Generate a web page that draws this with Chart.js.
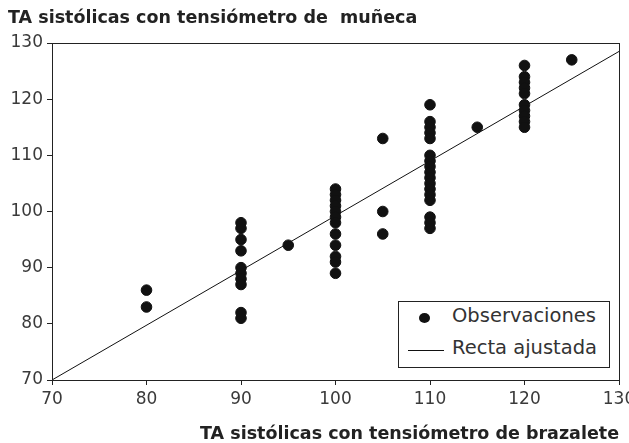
<!DOCTYPE html>
<html>
<head>
<meta charset="utf-8">
<script src="https://cdn.jsdelivr.net/npm/chart.js@4"></script>
<style>
  body { margin: 0; background: #fff; }
  #wrap { position: relative; width: 629px; height: 443px; }
  #legend {
    position: absolute; left: 398px; top: 301px; width: 210px; height: 65px;
    border: 1px solid #222; background: #fff;
    font-family: "DejaVu Sans", sans-serif; font-size: 19.5px; color: #333;
  }
  #legend div { position: absolute; left: 53px; white-space: nowrap; }
</style>
</head>
<body>
<div id="wrap">
  <canvas id="chart" width="629" height="443"></canvas>
  <div id="legend"></div>
</div>
<script>
// systolic readings: arm cuff (x) vs wrist (y)
const armTA = [
  80, 80,
  90, 90, 90, 90, 90, 90, 90, 90, 90, 90,
  95,
  100, 100, 100, 100, 100, 100, 100, 100, 100, 100, 100, 100,
  105, 105, 105,
  110, 110, 110, 110, 110, 110, 110, 110, 110, 110, 110, 110, 110, 110, 110, 110, 110,
  115,
  120, 120, 120, 120, 120, 120, 120, 120, 120, 120,
  125
];
const wristTA = [
  86, 83,
  98, 97, 95, 93, 90, 89, 88, 87, 82, 81,
  94,
  104, 103, 102, 101, 100, 99, 98, 96, 94, 92, 91, 89,
  113, 100, 96,
  119, 116, 115, 114, 113, 110, 109, 108, 107, 106, 105, 104, 103, 102, 99, 98, 97,
  115,
  126, 124, 123, 122, 121, 119, 118, 117, 116, 115,
  127
];
const fitX = [70, 130];
const fitY = [70, 128.5];
const axisTicks = [70, 80, 90, 100, 110, 120, 130];
const seriesNames = ['Observaciones', 'Recta ajustada'];

const font = '"DejaVu Sans", sans-serif';

const frame = {
  id: 'frame',
  afterDatasetsDraw(chart) {
    const a = chart.chartArea, ctx = chart.ctx;
    ctx.save();
    ctx.strokeStyle = '#222';
    ctx.lineWidth = 1;
    ctx.strokeRect(a.left + 0.5, a.top + 0.5, a.right - a.left, a.bottom - a.top);
    ctx.restore();
  }
};

const scaleCommon = {
  min: 70, max: 130,
  afterBuildTicks(s) { s.ticks = axisTicks.map(v => ({ value: v })); },
  grid: { drawOnChartArea: false, color: '#222', tickLength: 5, tickColor: '#222' },
  border: { color: '#222' },
  ticks: { color: '#3a3a3a', font: { family: font, size: 17 }, padding: 4 }
};

const chart = new Chart(document.getElementById('chart'), {
  type: 'scatter',
  data: {
    datasets: [
      {
        label: seriesNames[0],
        data: armTA.map((x, i) => ({ x: x, y: wristTA[i] })),
        backgroundColor: '#111',
        borderColor: '#111',
        pointRadius: 5.3,
        pointHoverRadius: 5.3
      },
      {
        label: seriesNames[1],
        type: 'line',
        data: fitX.map((x, i) => ({ x: x, y: fitY[i] })),
        borderColor: '#111',
        borderWidth: 1,
        pointRadius: 0,
        fill: false
      }
    ]
  },
  options: {
    responsive: false,
    animation: false,
    layout: { padding: { top: 2, right: 10, left: 8, bottom: 0 } },
    plugins: {
      legend: { display: false },
      tooltip: { enabled: false },
      title: {
        display: true,
        text: 'TA sistólicas con tensiómetro de  muñeca',
        align: 'start',
        color: '#222',
        font: { family: font, size: 17.5, weight: 'bold' },
        padding: { top: 6, bottom: 14 }
      }
    },
    scales: {
      x: Object.assign({}, scaleCommon, {
        type: 'linear',
        afterFit(s) { s.height = 63; s.paddingLeft = 0; s.paddingRight = 0; },
        title: {
          display: true,
          text: 'TA sistólicas con tensiómetro de brazalete',
          align: 'end',
          color: '#222',
          font: { family: font, size: 17.5, weight: 'bold' },
          padding: { top: 4, bottom: -2 }
        }
      }),
      y: Object.assign({}, scaleCommon, {
        afterFit(s) { s.width = 44; }
      })
    }
  },
  plugins: [frame]
});

// legend box built from the dataset labels
const lg = document.getElementById('legend');
lg.innerHTML =
  '<span style="position:absolute;left:20px;top:11px;width:11px;height:10px;border-radius:50%;background:#111"></span>' +
  '<div style="top:2px">' + chart.data.datasets[0].label + '</div>' +
  '<span style="position:absolute;left:9px;top:48px;width:36px;height:1px;background:#111"></span>' +
  '<div style="top:34px">' + chart.data.datasets[1].label + '</div>';
</script>
</body>
</html>
